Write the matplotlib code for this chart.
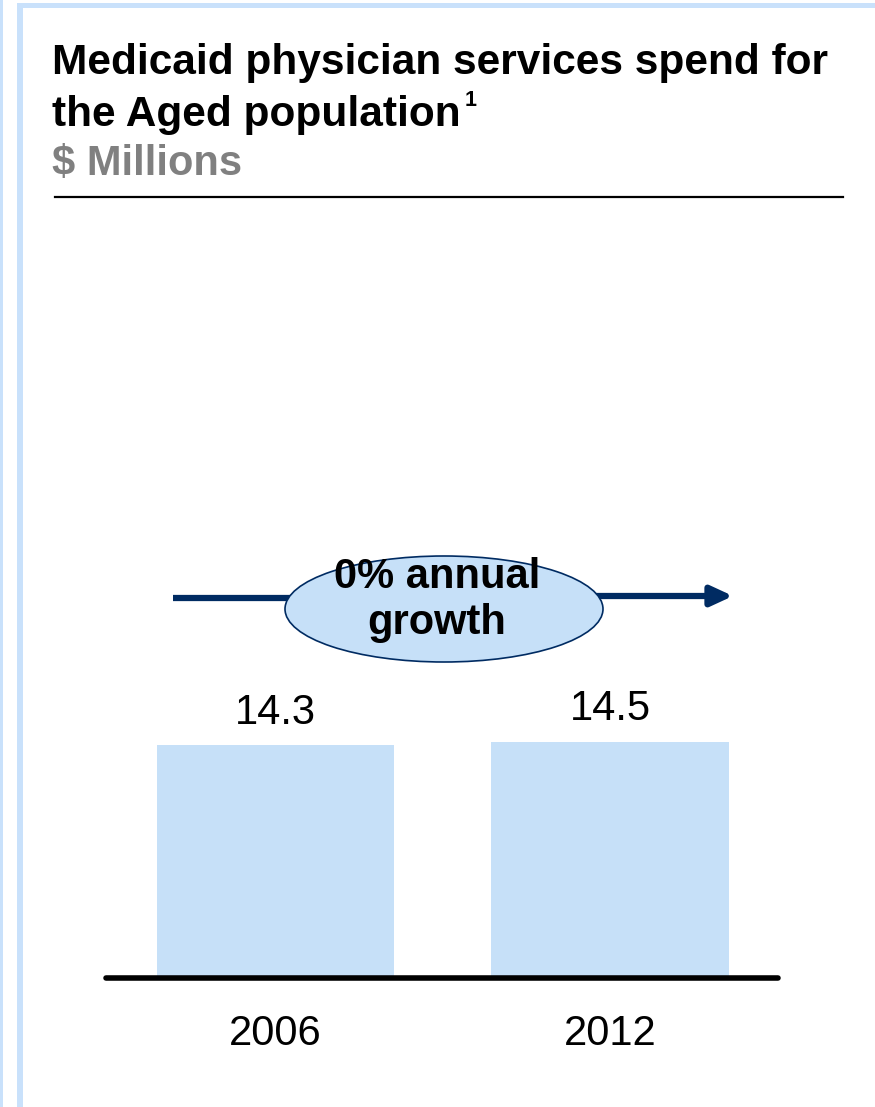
import matplotlib.pyplot as plt
from matplotlib.patches import Ellipse, Rectangle

plt.rcParams['font.family'] = ['Liberation Sans', 'DejaVu Sans']

# datos del grafico
years = ['2006', '2012']
spend = [14.3, 14.5]
value_labels = ['14.3', '14.5']
growth_label = '0% annual\ngrowth'

W, H = 875, 1107
bar_color = '#C6E0F8'
border_color = '#C9E1FB'
navy = '#002B62'

fig = plt.figure(figsize=(W / 100, H / 100), dpi=100)

# capa de fondo en pixeles para marco, titulo y flecha
bg = fig.add_axes([0, 0, 1, 1])
bg.set_xlim(0, W)
bg.set_ylim(H, 0)
bg.axis('off')

bg.add_patch(Rectangle((0, 0), 3, H, color=border_color, lw=0))
bg.add_patch(Rectangle((17, 3), 6, H, color=border_color, lw=0))
bg.add_patch(Rectangle((17, 3), W, 5, color=border_color, lw=0))

bg.text(52, 63, 'Medicaid physician services spend for', fontsize=30.5,
        fontweight='bold', va='center', ha='left')
bg.text(52, 115, 'the Aged population', fontsize=30.5,
        fontweight='bold', va='center', ha='left')
# superindice de la nota al pie
bg.text(465, 106, '1', fontsize=15.5, fontweight='bold', ha='left',
        va='baseline')
bg.text(52, 164, '$ Millions', fontsize=30, fontweight='bold',
        color='#808080', va='center', ha='left')
bg.plot([55, 843], [197, 197], color='black', lw=1.6)

# flecha de crecimiento
bg.plot([173, 300], [598, 598], color=navy, lw=4.5, solid_capstyle='butt')
bg.annotate('', xy=(733, 596), xytext=(590, 596),
            arrowprops=dict(arrowstyle='-|>,head_length=1.3,head_width=0.6',
                            color=navy, lw=4.5, shrinkA=0, shrinkB=0))
bg.add_patch(Ellipse((444, 609), 318, 106, facecolor=bar_color,
                     edgecolor=navy, lw=1.2, zorder=3))
bg.text(437, 600, growth_label, fontsize=30, fontweight='bold',
        ha='center', va='center', linespacing=1.2, zorder=4)

# barras
left, right, base, top = 106, 778, 978, 540
ax = fig.add_axes([left / W, 1 - base / H, (right - left) / W, (base - top) / H])
ax.patch.set_alpha(0)
x = list(range(len(years)))
ax.bar(x, spend, width=0.71, color=bar_color)
ax.set_xlim(-0.507, 1.502)
ax.set_ylim(0, (base - top) / 16.3)
for xi, v, lab in zip(x, spend, value_labels):
    ax.text(xi, v + 0.75, lab, ha='center', va='bottom', fontsize=30)
ax.axhline(0, color='black', lw=4, solid_capstyle='round', clip_on=False)
ax.set_yticks([])
ax.set_xticks(x)
ax.set_xticklabels(years, fontsize=30)
ax.tick_params(axis='x', length=0, pad=26)
for s in ax.spines.values():
    s.set_visible(False)

fig.savefig('out.png', dpi=100)
